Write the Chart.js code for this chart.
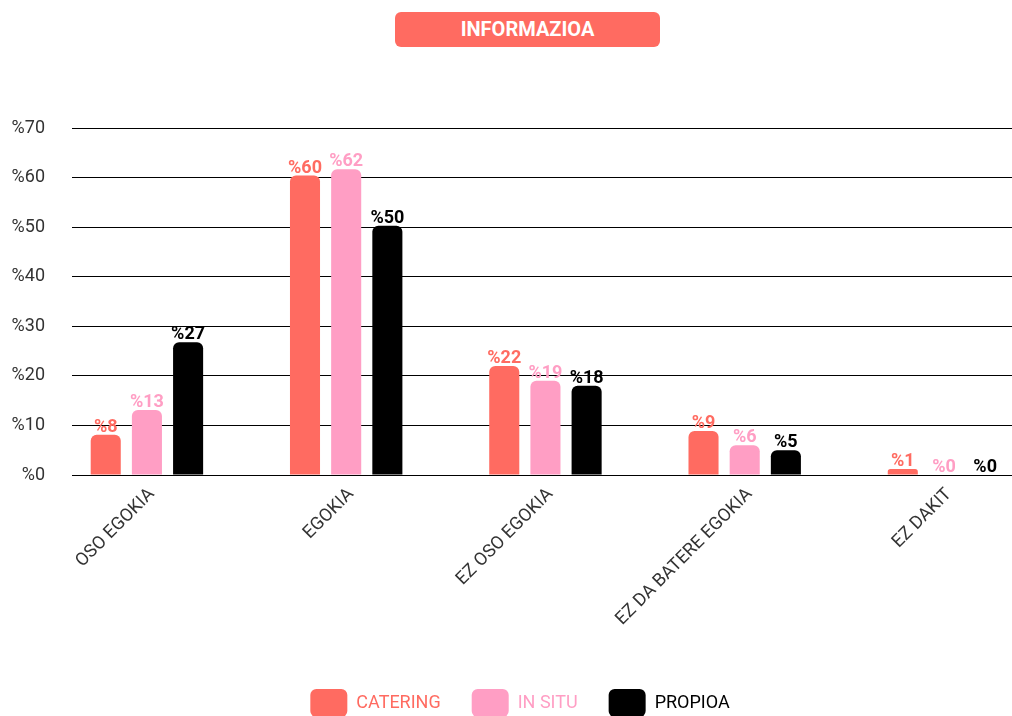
<!DOCTYPE html>
<html>
<head>
<meta charset="utf-8">
<script src="https://cdn.jsdelivr.net/npm/chart.js@4"></script>
<style>
  html, body { margin: 0; padding: 0; background: #fff; overflow: hidden; }
  #wrap { position: relative; width: 1040px; height: 727px; }
  #title {
    position: absolute; left: 395px; top: 12px; width: 265px; height: 35px;
    background: #FF6B61; border-radius: 6px; color: #fff;
    font: bold 20px Roboto, sans-serif; line-height: 35px; text-align: center;
    z-index: 2;
  }
  canvas { position: absolute; left: 0; top: 0; }
</style>
</head>
<body>
<div id="wrap">
  <div id="title">INFORMAZIOA</div>
  <canvas id="c" width="1040" height="727"></canvas>
</div>
<script>
const categories = ['OSO EGOKIA', 'EGOKIA', 'EZ OSO EGOKIA', 'EZ DA BATERE EGOKIA', 'EZ DAKIT'];
const seriesNames = ['CATERING', 'IN SITU', 'PROPIOA'];
const seriesColors = ['#FF6B61', '#FF9EC4', '#000000'];
const catering = [8.1, 60.4, 22.0, 8.9, 1.2];
const inSitu = [13.1, 61.7, 19.0, 6.0, 0];
const propioa = [26.8, 50.3, 18.0, 5.0, 0];
const yTickValues = [0, 10, 20, 30, 40, 50, 60, 70];

const seriesValues = [catering, inSitu, propioa];

const valueLabels = {
  id: 'valueLabels',
  afterDatasetsDraw(chart) {
    const ctx = chart.ctx;
    ctx.save();
    ctx.font = 'bold 18px Roboto';
    ctx.textAlign = 'center';
    ctx.textBaseline = 'alphabetic';
    chart.data.datasets.forEach((ds, di) => {
      const meta = chart.getDatasetMeta(di);
      meta.data.forEach((el, i) => {
        const v = ds.data[i].y;
        ctx.fillStyle = ds.backgroundColor;
        ctx.fillText('%' + Math.round(v), el.x, el.y - 3);
      });
    });
    ctx.restore();
  }
};

new Chart(document.getElementById('c'), {
  type: 'bar',
  data: {
    datasets: seriesNames.map((name, si) => ({
      label: name,
      data: seriesValues[si].map((v, i) => ({ x: i, y: v })),
      backgroundColor: seriesColors[si],
      borderWidth: 0,
      borderRadius: 6,
      categoryPercentage: 0.62,
      barPercentage: 0.73
    }))
  },
  options: {
    responsive: false,
    devicePixelRatio: 1,
    animation: false,
    layout: { padding: { top: 128, left: 0, right: 0, bottom: 0 } },
    scales: {
      x: {
        type: 'linear',
        bounds: 'data',
        offset: false,
        min: -0.376,
        max: 4.482,
        afterBuildTicks: axis => { axis.ticks = categories.map((c, i) => ({ value: i })); },
        afterFit: axis => { axis.height = 183; },
        grid: { display: false, drawTicks: false, offset: false },
        border: { display: false },
        ticks: {
          autoSkip: false,
          minRotation: 45,
          maxRotation: 45,
          padding: 9,
          labelOffset: 5,
          color: '#333',
          font: { family: 'Roboto', size: 18 },
          callback: v => categories[v] ?? ''
        }
      },
      y: {
        min: 0,
        max: 70,
        afterBuildTicks: axis => { axis.ticks = yTickValues.map(v => ({ value: v })); },
        afterFit: axis => { axis.width = 72; },
        grid: { color: '#000', lineWidth: 1, drawTicks: false },
        border: { display: false },
        ticks: {
          padding: 27,
          color: '#333',
          font: { family: 'Roboto', size: 18 },
          callback: v => '%' + v
        }
      }
    },
    plugins: {
      tooltip: { enabled: false },
      legend: {
        position: 'bottom',
        labels: {
          boxWidth: 37,
          boxHeight: 28,
          padding: 31,
          useBorderRadius: true,
          borderRadius: 6,
          font: { family: 'Roboto', size: 18 },
          generateLabels: chart => {
            const items = Chart.defaults.plugins.legend.labels.generateLabels(chart);
            items.forEach((it, i) => { it.fontColor = seriesColors[i]; it.lineWidth = 0; it.strokeStyle = 'transparent'; });
            return items;
          }
        }
      }
    }
  },
  plugins: [valueLabels]
});
</script>
</body>
</html>
